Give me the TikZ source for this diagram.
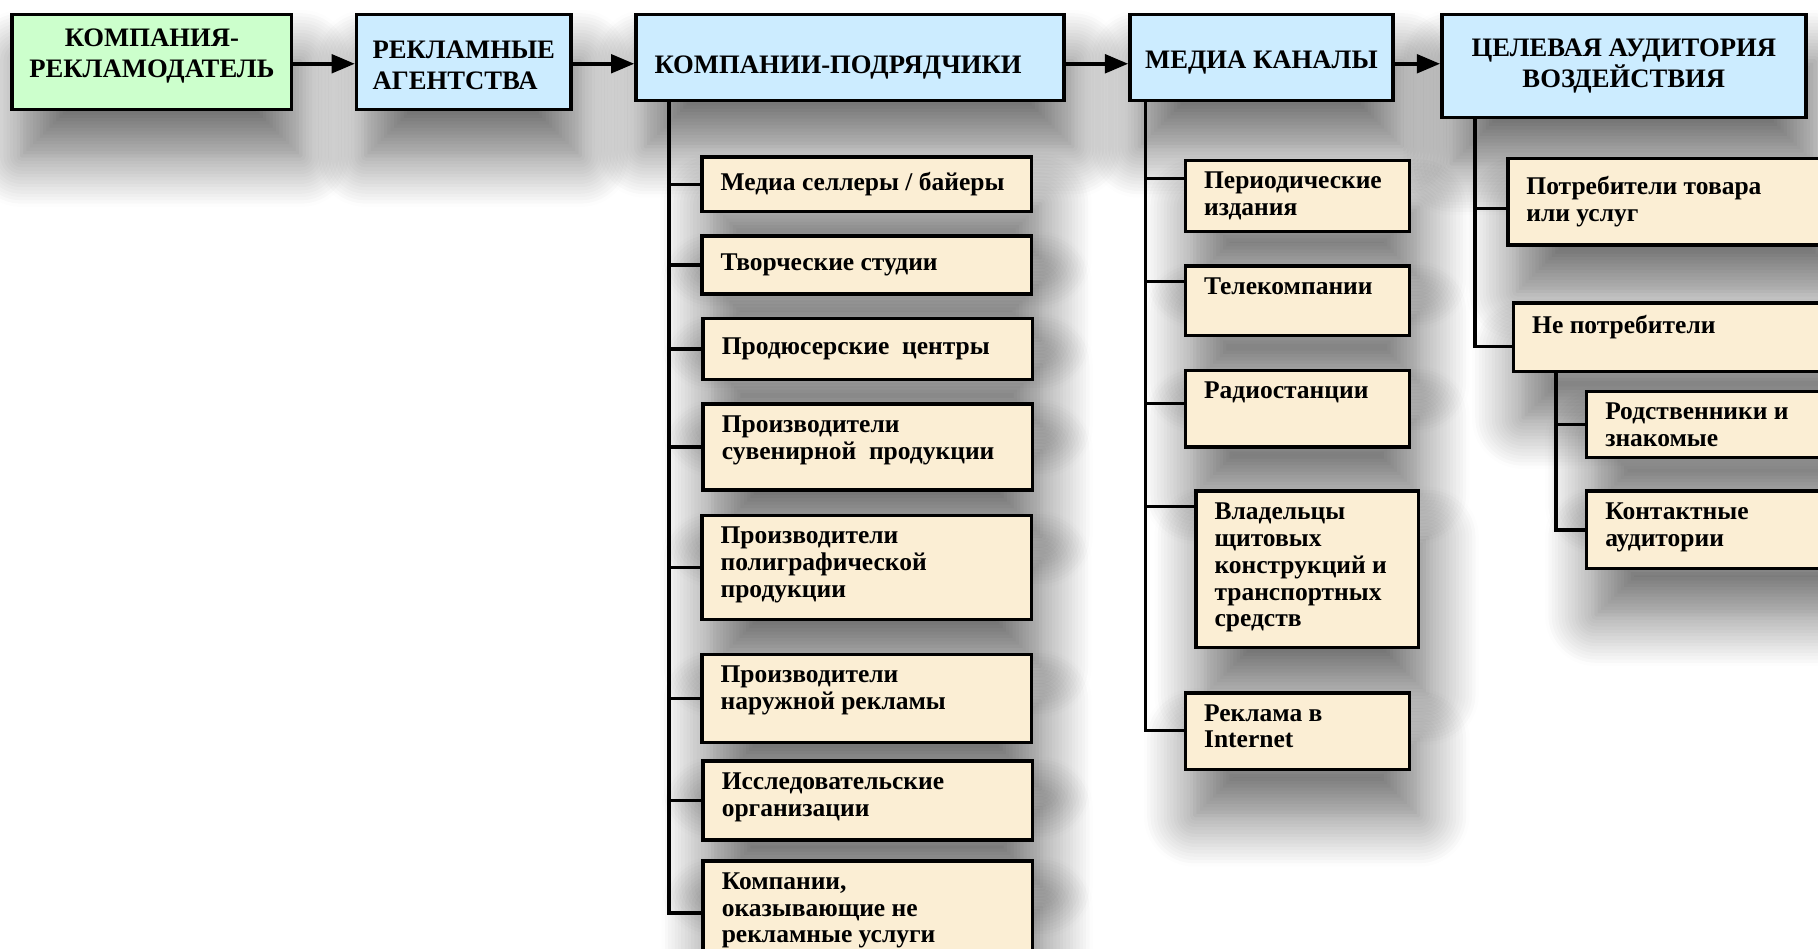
\documentclass[tikz,border=0pt]{standalone}
\usepackage{fontspec}
\setmainfont{Liberation Serif}
\usetikzlibrary{arrows.meta,calc,shadows.blur}

\definecolor{advgreen}{RGB}{204,255,204}
\definecolor{headblue}{RGB}{204,236,255}
\definecolor{paper}{RGB}{251,238,212}

% text block of a small box: [vertical pos]{width px}{height px}{text}
\newcommand{\leaftext}[4][t]{\parbox[t][\dimexpr#3pt/2-10pt\relax][#1]{\dimexpr#2pt/2-16pt\relax}{\raggedright #4}}

\tikzset{
  softshadow/.style={blur shadow={shadow xshift=4pt,shadow yshift=-20pt,shadow blur radius=22pt,shadow blur steps=16,shadow opacity=58}},
  head/.style={draw, fill=headblue, anchor=north west, inner sep=0pt, align=center,
    font=\fontsize{11.5}{13.5}\selectfont\bfseries, softshadow},
  leafbox/.style={draw, fill=paper, anchor=north west, inner xsep=8pt, inner ysep=5pt,
    font=\fontsize{11}{11.6}\selectfont\bfseries, softshadow}
}

\begin{document}
\begin{tikzpicture}[x=0.5pt,y=-0.5pt,line width=1.5pt,>={Triangle[length=10pt,width=8pt]}]
  \useasboundingbox (0,0) rectangle (1568,818);

  % top row
  \node[head, fill=advgreen, minimum width=120.5pt, minimum height=41pt] (adv) at (9,11) {КОМПАНИЯ-\\РЕКЛАМОДАТЕЛЬ\rule[-7.5pt]{0pt}{0pt}};
  \node[head, minimum width=92.5pt, minimum height=41pt, align=left] (agency) at (306,11) {\rule{0pt}{10.6pt}РЕКЛАМНЫЕ\\АГЕНТСТВА};
  \node[head, minimum height=37pt, text width=168.5pt, inner xsep=8pt, align=left] (contr) at (547,11) {\rule{0pt}{16pt}КОМПАНИИ-ПОДРЯДЧИКИ};
  \node[head, minimum width=113.5pt, minimum height=37pt] (media) at (973,11) {\rule{0pt}{12.4pt}МЕДИА КАНАЛЫ};
  \node[head, minimum width=157pt, minimum height=44.5pt] (target) at (1242,11) {ЦЕЛЕВАЯ АУДИТОРИЯ\\ВОЗДЕЙСТВИЯ};

  \coordinate (arr) at (0,55);
  \draw[->] (adv.east |- arr) -- (agency.west |- arr);
  \draw[->] (agency.east |- arr) -- (contr.west |- arr);
  \draw[->] (contr.east |- arr) -- (media.west |- arr);
  \draw[->] (media.east |- arr) -- (target.west |- arr);

  % contractors
  \node[leafbox] (sell) at (604,134) {\leaftext[c]{284}{47}{Медиа селлеры / байеры}};
  \node[leafbox] (creat) at (604,202) {\leaftext[c]{284}{50}{Творческие студии}};
  \node[leafbox] (prod) at (605,273) {\leaftext[c]{284}{53}{Продюсерские~ центры}};
  \node[leafbox] (souv) at (605,347) {\leaftext{284}{74}{Производители\\сувенирной~ продукции}};
  \node[leafbox] (print) at (604,443) {\leaftext{284}{90}{Производители\\полиграфической\\продукции}};
  \node[leafbox] (outd) at (604,563) {\leaftext{284}{76}{Производители\\наружной рекламы}};
  \node[leafbox] (res) at (605,655) {\leaftext{284}{68}{Исследовательские\\организации}};
  \node[leafbox] (other) at (605,741) {\leaftext{284}{90}{Компании,\\оказывающие не\\рекламные услуги}};

  % media channels
  \node[leafbox] (press) at (1021,137) {\leaftext{193}{61}{Периодические\\издания}};
  \node[leafbox] (tv) at (1021,228) {\leaftext{193}{60}{Телекомпании}};
  \node[leafbox] (radio) at (1021,318) {\leaftext{193}{66}{Радиостанции}};
  \node[leafbox] (board) at (1030,422) {\leaftext{192}{135}{Владельцы\\щитовых\\конструкций и\\транспортных\\средств}};
  \node[leafbox] (web) at (1021,596) {\leaftext{193}{66}{Реклама в\\Internet}};

  % audience
  \node[leafbox] (cons) at (1299,135) {\leaftext[c]{290}{75}{Потребители товара\\или услуг}};
  \node[leafbox] (noncons) at (1304,260) {\leaftext{290}{59}{Не потребители}};
  \node[leafbox] (rel) at (1367,336) {\leaftext{230}{57}{Родственники и\\знакомые}};
  \node[leafbox] (cont) at (1367,422) {\leaftext{230}{67}{Контактные\\аудитории}};

  % trees
  \coordinate (ta) at ($(contr.south west)+(30,0)$);
  \draw (ta) |- (other.west);
  \foreach \n in {sell,creat,prod,souv,print,outd,res}
    \draw (ta |- \n.west) -- (\n.west);

  \coordinate (tb) at ($(media.south west)+(15,0)$);
  \draw (tb) |- ($(web.north west)+(0,34)$);
  \foreach \n/\d in {press/17,tv/15,radio/30,board/15}
    \draw ($(\n.north west)+(0,\d)$) coordinate (h) -- (h -| tb);

  \coordinate (tc) at ($(target.south west)+(30,0)$);
  \draw (tc) |- ($(noncons.north west)+(0,39)$);
  \draw ($(cons.north west)+(0,45)$) coordinate (h) -- (h -| tc);

  \coordinate (td) at ($(noncons.south west)+(38,0)$);
  \draw (td) |- (cont.west);
  \draw (td |- rel.west) -- (rel.west);
\end{tikzpicture}
\end{document}
